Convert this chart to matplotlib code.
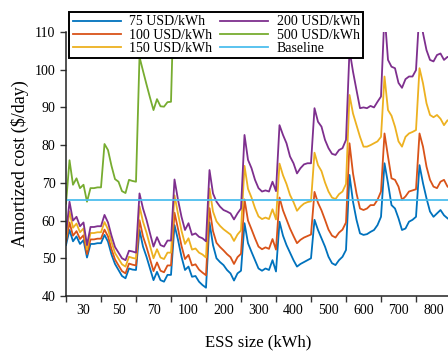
import matplotlib
matplotlib.use("Agg")
import matplotlib.pyplot as plt
import numpy as np

plt.rcParams['font.family'] = ['Liberation Serif', 'DejaVu Serif']
plt.rcParams['mathtext.fontset'] = 'stix'

# ESS size group labels (each group holds 10 operating points)
group_labels = ["30", "50", "70", "100", "200", "300", "400", "500", "600", "700", "800"]

series_names = ["75 USD/kWh", "100 USD/kWh", "150 USD/kWh", "200 USD/kWh", "500 USD/kWh"]

cost_75 = [53.5,
    57.5, 54.5, 55.8, 53.8, 54.8, 50.2, 53.8, 53.8, 54.0, 54.0,
    56.2, 54.4, 51.0, 48.5, 46.9, 45.3, 44.7, 47.3, 47.0, 46.9,
    57.5, 53.1, 50.4, 47.3, 44.2, 46.4, 44.2, 43.8, 45.6, 45.6,
    58.8, 54.9, 50.4, 46.9, 47.8, 45.1, 45.3, 43.8, 42.9, 42.2,
    59.5, 53.5, 50.0, 49.0, 48.2, 46.9, 46.0, 44.1, 46.0, 46.7,
    59.3, 54.0, 51.7, 49.5, 47.3, 46.7, 47.3, 46.9, 49.5, 46.5,
    59.7, 56.0, 53.5, 51.5, 49.5, 47.8, 48.5, 49.0, 49.5, 50.0,
    60.2, 57.5, 55.3, 53.1, 50.4, 48.7, 48.2, 49.5, 50.4, 52.2,
    72.1, 65.0, 60.2, 56.6, 56.2, 56.4, 57.0, 57.5, 58.8, 61.0,
    75.2, 69.9, 64.1, 63.2, 60.6, 57.5, 57.9, 59.7, 60.2, 61.0,
    74.7, 69.9, 65.9, 62.4, 61.0, 61.9, 62.8, 61.4, 60.6, 60.0]

cost_100 = [54.3,
    59.5, 56.0, 57.2, 55.1, 56.1, 51.1, 55.0, 55.0, 55.2, 55.2,
    57.6, 55.8, 52.4, 49.7, 48.1, 46.6, 46.0, 48.6, 48.3, 48.1,
    60.1, 55.8, 53.0, 49.8, 46.6, 48.9, 46.7, 46.3, 48.1, 48.1,
    62.1, 57.8, 53.3, 49.8, 50.9, 48.1, 48.4, 47.0, 46.2, 45.5,
    63.3, 57.2, 54.1, 53.0, 52.1, 51.1, 50.3, 48.5, 50.3, 51.2,
    65.6, 60.0, 57.7, 55.3, 53.1, 52.4, 52.9, 52.5, 55.1, 52.3,
    66.1, 62.7, 60.3, 57.9, 55.9, 54.0, 54.9, 55.5, 55.9, 56.3,
    67.6, 64.7, 62.7, 60.2, 57.6, 56.0, 55.5, 56.8, 57.6, 59.5,
    80.5, 72.5, 67.2, 63.2, 62.8, 63.2, 64.1, 64.1, 65.5, 67.7,
    83.1, 77.0, 71.2, 70.8, 69.0, 65.5, 66.4, 67.7, 68.0, 68.3,
    83.1, 79.6, 74.3, 70.8, 69.0, 68.6, 70.3, 70.8, 69.0, 68.5]

cost_150 = [55.5,
    62.4, 58.1, 59.2, 56.9, 57.9, 52.3, 56.7, 56.7, 56.9, 56.9,
    59.6, 57.7, 54.3, 51.4, 49.9, 48.4, 47.8, 50.4, 50.1, 49.9,
    63.8, 59.7, 56.8, 53.3, 50.0, 52.4, 50.2, 49.8, 51.5, 51.5,
    66.7, 61.8, 57.3, 53.8, 55.3, 52.3, 52.6, 51.5, 51.0, 50.2,
    68.5, 62.4, 59.8, 58.6, 57.7, 57.0, 56.3, 54.6, 56.3, 57.4,
    74.5, 68.4, 66.1, 63.3, 61.1, 60.4, 60.8, 60.4, 63.0, 60.3,
    75.1, 72.0, 69.7, 66.8, 64.9, 62.6, 63.7, 64.5, 64.9, 65.1,
    78.0, 74.7, 73.1, 70.1, 67.7, 66.1, 65.7, 67.0, 67.7, 69.7,
    93.3, 88.4, 85.3, 82.2, 79.6, 79.6, 80.0, 80.5, 81.0, 82.2,
    98.2, 89.3, 87.8, 84.9, 81.0, 79.6, 82.2, 83.1, 83.5, 84.0,
    100.4, 96.4, 91.1, 88.0, 87.4, 88.0, 87.0, 85.3, 86.6, 86.0]

cost_200 = [56.5,
    65.0, 60.0, 61.0, 58.5, 59.5, 53.5, 58.3, 58.3, 58.5, 58.5,
    61.5, 59.5, 56.0, 53.0, 51.5, 50.0, 49.5, 52.0, 51.8, 51.5,
    67.2, 63.2, 60.2, 56.6, 53.1, 55.6, 53.5, 53.1, 54.7, 54.7,
    70.9, 65.5, 61.0, 57.5, 59.3, 56.2, 56.6, 55.7, 55.3, 54.5,
    73.4, 67.2, 65.0, 63.7, 62.8, 62.4, 61.9, 60.3, 61.9, 63.2,
    82.7, 76.1, 73.9, 70.8, 68.6, 67.7, 68.0, 67.7, 70.3, 67.8,
    85.3, 82.7, 80.5, 77.0, 75.2, 72.5, 73.9, 74.9, 75.2, 75.2,
    89.8, 86.2, 84.9, 81.4, 79.2, 77.7, 77.4, 78.7, 79.2, 81.4,
    105.2, 99.5, 94.6, 89.8, 90.0, 89.8, 90.4, 90.0, 91.5, 92.9,
    115.0, 102.6, 100.8, 100.4, 96.5, 95.2, 97.5, 98.2, 98.2, 99.9,
    116.0, 109.7, 105.2, 102.6, 102.2, 103.9, 104.3, 102.6, 103.4, 103.0]

cost_500 = [64.5,
    76.0, 69.5, 71.2, 68.6, 69.5, 65.0, 68.6, 68.6, 68.8, 68.8,
    80.3, 78.7, 74.5, 71.0, 70.3, 67.8, 67.3, 70.8, 70.5, 70.3,
    103.4, 99.7, 96.1, 92.6, 89.3, 92.2, 90.3, 90.2, 91.4, 91.5,
    126, 118, 114, 111, 113, 111, 111, 111, 111, 111,
    136, 128, 126, 124, 123, 122, 121, 119, 121, 123,
    168, 160, 156, 152, 148, 147, 148, 147, 152, 147,
    182, 178, 175, 168, 165, 160, 162, 164, 165, 165,
    200, 195, 192, 187, 182, 180, 179, 181, 182, 185,
    235, 228, 220, 213, 212, 212, 213, 213, 216, 220,
    255, 238, 233, 232, 226, 222, 225, 227, 227, 230,
    265, 255, 249, 242, 240, 243, 245, 242, 242, 240]

baseline_cost = 65.5

colors = ["#0072BD", "#D95319", "#EDB120", "#7E2F8E", "#77AC30"]
baseline_color = "#4DBEEE"

fig = plt.figure(figsize=(4.48, 3.54), dpi=100)
ax = fig.add_axes([66 / 448, 58 / 354, 385 / 448, 264 / 354])

x = np.arange(len(cost_75))
for vals, name, c in zip([cost_75, cost_100, cost_150, cost_200, cost_500], series_names, colors):
    ax.plot(x, vals, color=c, lw=1.3, label=name)
ax.axhline(baseline_cost, color=baseline_color, lw=1.3, label="Baseline")

n_groups = len(group_labels)
ax.set_xlim(0, 10 * n_groups)
ax.set_ylim(40, 110)
ax.set_xticks(np.arange(0, 10 * n_groups + 1, 10))
ax.set_xticklabels([])
ax.set_xticks(np.arange(5, 10 * n_groups, 10), minor=True)
ax.set_xticklabels(group_labels, minor=True)
ax.tick_params(axis='x', which='minor', length=0, labelsize=10, pad=6)
ax.tick_params(axis='both', which='major', direction='out', length=4, width=1.0, labelsize=10, color='#333333')
ax.set_yticks(np.arange(40, 111, 10))

for s in ['top', 'right']:
    ax.spines[s].set_visible(False)
for s in ['left', 'bottom']:
    ax.spines[s].set_linewidth(1.1)
    ax.spines[s].set_color('#222222')

ax.set_xlabel("ESS size (kWh)", fontsize=12, labelpad=12)
ax.set_ylabel("Amortized cost ($/day)", fontsize=13, labelpad=4)

leg = ax.legend(loc='upper left', bbox_to_anchor=(0.008, 1.076), ncol=2, fontsize=10,
                frameon=True, fancybox=False, edgecolor='black', framealpha=1,
                handlelength=3.5, handletextpad=0.6, columnspacing=0.5,
                labelspacing=0.02, borderpad=0.25, borderaxespad=0)
leg.get_frame().set_linewidth(1.4)

fig.savefig("out.png", dpi=100)
